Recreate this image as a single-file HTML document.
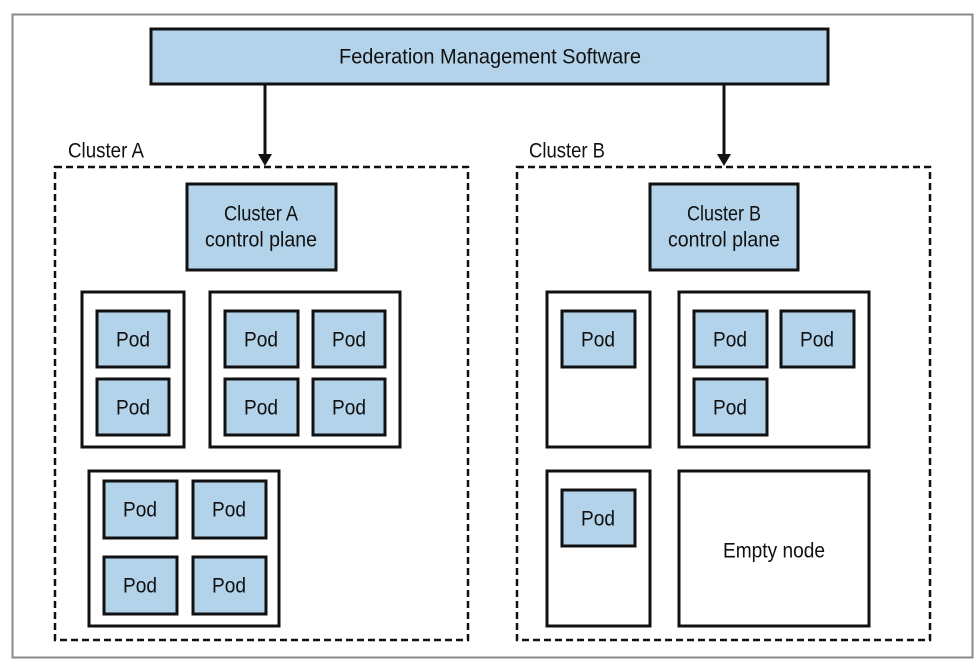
<!DOCTYPE html>
<html><head><meta charset="utf-8"><style>
html,body{margin:0;padding:0;background:#fff}
svg{display:block}
text{font-family:"Liberation Sans",sans-serif;font-size:21px;fill:#111;text-anchor:middle;dominant-baseline:central}
</style></head><body>
<svg width="979" height="670" viewBox="0 0 979 670">
<rect x="12.5" y="14.5" width="960" height="643" fill="#fff" stroke="#888" stroke-width="2"/>
<g stroke="#111" stroke-width="3">
<rect x="151" y="29" width="677" height="55" fill="#b3d3ea"/>
<line x1="265" y1="84" x2="265" y2="155"/>
<line x1="724" y1="84" x2="724" y2="155"/>
</g>
<polygon points="258,154 272,154 265,166" fill="#111"/>
<polygon points="717,154 731,154 724,166" fill="#111"/>
<g fill="none" stroke="#111" stroke-width="2.5" stroke-dasharray="7,4">
<rect x="55" y="167" width="413" height="473"/>
<rect x="517" y="167" width="413" height="473"/>
</g>
<g stroke="#111" stroke-width="3" fill="#fff">
<rect x="82" y="292" width="102" height="155"/>
<rect x="210" y="292" width="190" height="155"/>
<rect x="89" y="471" width="190" height="155"/>
<rect x="547" y="292" width="103" height="155"/>
<rect x="679" y="292" width="190" height="155"/>
<rect x="547" y="471" width="103" height="155"/>
<rect x="679" y="471" width="190" height="155"/>
</g>
<g stroke="#111" stroke-width="3" fill="#b3d3ea">
<rect x="187" y="184" width="149" height="86"/>
<rect x="650" y="184" width="148" height="86"/>
<rect x="97" y="311" width="72" height="56"/>
<rect x="97" y="379" width="72" height="56"/>
<rect x="225" y="311" width="73" height="56"/>
<rect x="313" y="311" width="72" height="56"/>
<rect x="225" y="379" width="73" height="56"/>
<rect x="313" y="379" width="72" height="56"/>
<rect x="104" y="481" width="73" height="57"/>
<rect x="193" y="481" width="73" height="57"/>
<rect x="104" y="557" width="73" height="57"/>
<rect x="193" y="557" width="73" height="57"/>
<rect x="562" y="311" width="73" height="56"/>
<rect x="694" y="311" width="73" height="56"/>
<rect x="781" y="311" width="73" height="56"/>
<rect x="694" y="379" width="73" height="56"/>
<rect x="562" y="490" width="73" height="56"/>
</g>
<text x="490" y="57" textLength="302" lengthAdjust="spacingAndGlyphs">Federation Management Software</text>
<text x="106" y="151" textLength="76" lengthAdjust="spacingAndGlyphs">Cluster A</text>
<text x="567" y="151" textLength="76" lengthAdjust="spacingAndGlyphs">Cluster B</text>
<text x="261" y="214" textLength="74" lengthAdjust="spacingAndGlyphs">Cluster A</text>
<text x="261" y="240" textLength="112" lengthAdjust="spacingAndGlyphs">control plane</text>
<text x="724" y="214" textLength="74" lengthAdjust="spacingAndGlyphs">Cluster B</text>
<text x="724" y="240" textLength="112" lengthAdjust="spacingAndGlyphs">control plane</text>
<g>
<text x="133" y="340" textLength="34" lengthAdjust="spacingAndGlyphs">Pod</text><text x="133" y="408" textLength="34" lengthAdjust="spacingAndGlyphs">Pod</text>
<text x="261" y="340" textLength="34" lengthAdjust="spacingAndGlyphs">Pod</text><text x="349" y="340" textLength="34" lengthAdjust="spacingAndGlyphs">Pod</text>
<text x="261" y="408" textLength="34" lengthAdjust="spacingAndGlyphs">Pod</text><text x="349" y="408" textLength="34" lengthAdjust="spacingAndGlyphs">Pod</text>
<text x="140" y="510" textLength="34" lengthAdjust="spacingAndGlyphs">Pod</text><text x="229" y="510" textLength="34" lengthAdjust="spacingAndGlyphs">Pod</text>
<text x="140" y="586" textLength="34" lengthAdjust="spacingAndGlyphs">Pod</text><text x="229" y="586" textLength="34" lengthAdjust="spacingAndGlyphs">Pod</text>
<text x="598" y="340" textLength="34" lengthAdjust="spacingAndGlyphs">Pod</text><text x="730" y="340" textLength="34" lengthAdjust="spacingAndGlyphs">Pod</text>
<text x="817" y="340" textLength="34" lengthAdjust="spacingAndGlyphs">Pod</text><text x="730" y="408" textLength="34" lengthAdjust="spacingAndGlyphs">Pod</text>
<text x="598" y="519" textLength="34" lengthAdjust="spacingAndGlyphs">Pod</text>
</g>
<text x="774" y="551" textLength="102" lengthAdjust="spacingAndGlyphs">Empty node</text>
</svg>
</body></html>
